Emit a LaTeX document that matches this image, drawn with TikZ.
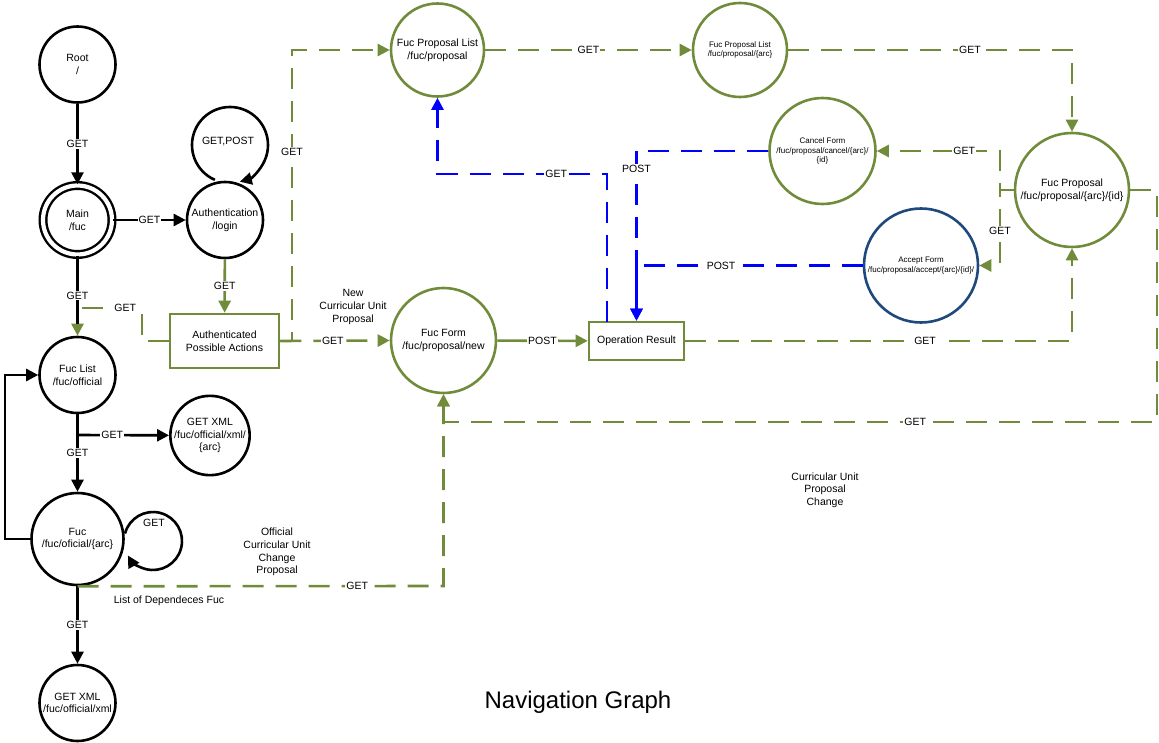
\documentclass[tikz,border=0pt]{standalone}
\usepackage{fontspec}
\setmainfont{Liberation Sans}
\usetikzlibrary{arrows.meta}
\definecolor{grn}{RGB}{112,140,58}
\definecolor{dkb}{RGB}{31,73,125}
\definecolor{blu}{RGB}{0,0,255}
\begin{document}
\begin{tikzpicture}[x=1pt,y=1pt,
 every node/.style={font=\fontsize{10.5}{12.6}\selectfont},
 st/.style={circle, draw=black, line width=2.6pt, minimum size=76pt, inner sep=0pt, align=center},
 gst/.style={st, draw=grn},
 bx/.style={rectangle, draw=grn, line width=2.6pt, inner sep=0pt, align=center},
 lbl/.style={fill=white, inner sep=1pt},
 txt/.style={align=center, inner sep=0pt},
 blk/.style={draw=black, line width=2.6pt},
 gln/.style={draw=grn, line width=2.6pt},
 gds/.style={gln, dash pattern=on 21pt off 12pt},
 bln/.style={draw=blu, line width=2.6pt},
 bds/.style={bln, dash pattern=on 21pt off 12pt},
 tip/.style={-{Triangle[length=12pt,width=12pt]}},
 small/.style={font=\fontsize{8}{9.6}\selectfont}]
\useasboundingbox (0,0) rectangle (1159,-743);

% nodes
\node[st] (Root) at (77.5,-64.5) {Root\\/};
\node[st, minimum size=69pt, line width=2.4pt, double, double distance=4.2pt] (Main) at (77.5,-220) {Main\\/fuc};
\node[st] (Auth) at (225,-220) {Authentication\\/login};
\node[st] (FucList) at (77.5,-375) {Fuc List\\/fuc/official};
\node[st] (XML1) at (210,-435.5) {GET XML\\/fuc/official/xml/\\\{arc\}};
\node[st, minimum size=92pt] (Fuc) at (77.5,-539) {Fuc\\/fuc/oficial/\{arc\}};
\node[st] (XML2) at (77.5,-703) {GET XML\\/fuc/official/xml};
\node[bx, minimum width=109pt, minimum height=54pt] (APA) at (224.5,-341) {Authenticated\\Possible Actions};
\node[gst, minimum size=93pt] (PL) at (437.5,-50) {Fuc Proposal List\\/fuc/proposal};
\node[gst, minimum size=94pt, small] (PLA) at (740,-50) {Fuc Proposal List\\/fuc/proposal/\{arc\}};
\node[gst, minimum size=114pt] (FP) at (1072,-190) {Fuc Proposal\\/fuc/proposal/\{arc\}/\{id\}};
\node[gst, minimum size=106pt, small] (CF) at (822.5,-151) {Cancel Form\\/fuc/proposal/cancel/\{arc\}/\\\{id\}};
\node[st, draw=dkb, minimum size=114pt, small] (AF) at (921,-265.5) {Accept Form\\/fuc/proposal/accept/\{arc\}/\{id\}/};
\node[gst, minimum size=105pt] (FF) at (443.5,-340.5) {Fuc Form\\/fuc/proposal/new};
\node[bx, minimum width=95pt, minimum height=38pt] (OR) at (636.5,-341) {Operation Result};

% free texts
\node[txt] (tLoopA) at (228,-142) {GET,POST};
\node[txt] (tLoopF) at (154,-523) {GET};
\node[txt] (tNew) at (353,-307) {New\\Curricular Unit\\Proposal};
\node[txt] (tOff) at (277,-552) {Official\\Curricular Unit\\Change\\Proposal};
\node[txt] (tDep) at (169,-601) {List of Dependeces Fuc};
\node[txt] (tCh) at (825,-490) {Curricular Unit\\Proposal\\Change};
\node[txt, font=\fontsize{24}{28}\selectfont] (tTitle) at (578,-702) {Navigation Graph};

% coordinates
\coordinate (alc) at (230,-145);
\coordinate (flc) at (153,-541);
\coordinate (j1) at (77.5,-435);
\coordinate (orA) at (607,-322);
\coordinate (j3) at (636.5,-265.5);

% black edges
\draw[blk,tip] (Root) -- node[lbl]{GET} (Main);
\draw[blk,tip] (Main) -- node[lbl]{GET} (Auth);
\draw[blk,tip] ([shift={(246.6:38)}]alc) arc[start angle=246.6, end angle=-75, radius=38];
\draw[blk,tip] (FucList) -- node[lbl]{GET} (Fuc);
\draw[blk,tip] (j1) -- node[lbl,pos=0.38]{GET} (XML1);
\draw[blk,tip] ([shift={(165:29)}]flc) arc[start angle=165, end angle=-150, radius=29];
\draw[blk,tip] (Fuc.west) -- (5,-539) |- (FucList.west);
\draw[blk,tip] (Fuc) -- node[lbl]{GET} (XML2);

% green edges
\draw[gln,tip] (Auth) -- node[lbl]{GET} (APA);
\draw[gds,tip] (APA.west) -- (142,-341) -- (142,-308) -- node[lbl,pos=0.26]{GET} (77.5,-308) -- (FucList.north);
\draw[blk, shorten >=12pt] (Main) -- node[lbl]{GET} (FucList);
\draw[gds,tip] (Fuc.south) -- node[lbl,pos=0.764]{GET} (443.5,-586) -- (FF.south);
\draw[gds,tip] (FP.east) -- (1157,-190) -- (1157,-422) -- node[lbl,pos=0.339]{GET} (443.5,-422) -- (FF.south);
\draw[gds,tip] (APA.east) -- node[lbl,pos=0.48]{GET} (FF.west);
\draw[gds,tip] (APA.east) -- (292,-341) -- node[lbl,pos=0.65]{GET} (292,-50) -- (PL.west);
\draw[gds,tip] (PL) -- node[lbl]{GET} (PLA);
\draw[gds,tip] (PLA.east) -| node[lbl,pos=0.32]{GET} (FP.north);
\draw[gln,tip] (FF) -- node[lbl]{POST} (OR);
\draw[gds,tip] (OR.east) -| node[lbl,pos=0.31]{GET} (FP.south);
\draw[gds,tip] (FP.west) -- (1000,-190) |- node[lbl,pos=0.645]{GET} (CF.east);
\draw[gds,tip] (FP.west) -- (1000,-190) |- node[lbl,pos=0.27]{GET} (AF.east);
\draw[gln] (FP.west) -- (1000,-190);
\draw[gln] (1000,-183) -- (1000,-197);

% blue edges
\draw[bds,tip] (orA) -- (607,-174) -- node[lbl,pos=0.3]{GET} (437.5,-174) -- (PL.south);
\draw[bds,tip] (CF.west) -| node[lbl,pos=0.553]{POST} (OR.north);
\draw[bds] (AF.west) -- node[lbl,pos=0.626]{POST} (j3);
\draw[bln,tip] (j3) -- (OR.north);
\end{tikzpicture}
\end{document}
